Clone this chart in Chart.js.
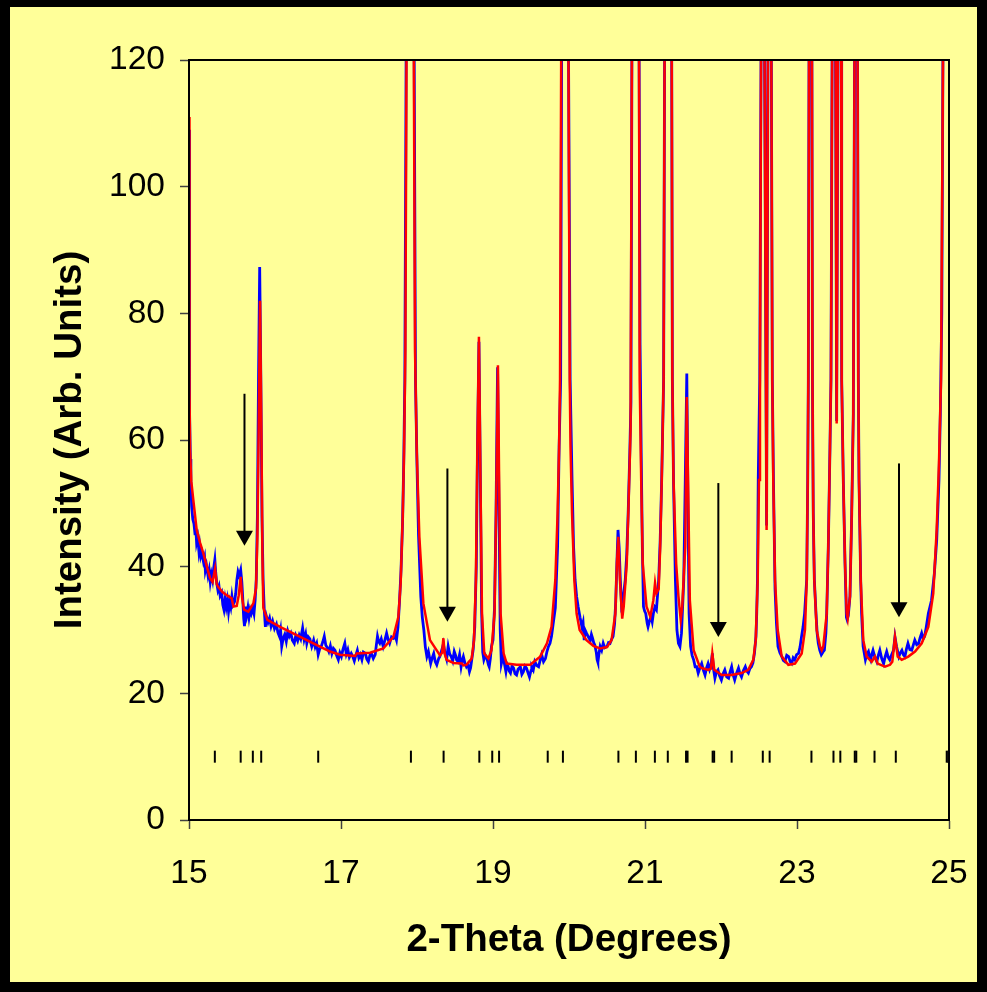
<!DOCTYPE html>
<html>
<head>
<meta charset="utf-8">
<script src="https://cdn.jsdelivr.net/npm/chart.js@4.4.0/dist/chart.umd.min.js"></script>
<style>
    html, body { margin: 0; padding: 0; background: #000; }
    #wrap { position: absolute; left: 10px; top: 7px; width: 967px; height: 975px; background: #FFFF99; }
</style>
</head>
<body>
<div id="wrap"><canvas id="xrdChart"></canvas></div>
<script>
// observed pattern [2theta, intensity]
const obsPoints = [
    [15.000,109],[15.004,90],[15.008,75],[15.012,64],[15.018,57],[15.025,53],[15.035,49.5],[15.050,47.5],
    [15.065,46.8],[15.079,45.2],[15.090,46.0],[15.100,43.8],[15.115,44.6],[15.130,42.5],[15.140,43.4],
    [15.155,41.6],[15.170,42.2],[15.190,40.8],[15.205,41.5],[15.215,39.4],[15.230,40.2],[15.250,38.6],
    [15.265,39.5],[15.280,37.6],[15.295,38.8],[15.310,37.9],[15.325,39.8],[15.340,41.1],[15.352,39.0],
    [15.365,37.4],[15.380,36.3],[15.395,36.9],[15.410,35.4],[15.430,35.9],[15.445,34.0],[15.460,33.2],
    [15.475,34.8],[15.490,33.6],[15.505,34.7],[15.520,32.9],[15.535,34.4],[15.550,33.6],[15.565,35.3],
    [15.580,34.0],[15.600,34.5],[15.615,35.8],[15.630,37.9],[15.645,39.2],[15.660,38.6],[15.680,39.5],
    [15.695,37.6],[15.705,35.5],[15.720,31.8],[15.730,30.6],[15.745,33.7],[15.760,32.4],[15.775,33.5],
    [15.790,32.0],[15.805,33.2],[15.820,32.6],[15.840,33.4],[15.855,32.6],[15.870,34.7],[15.885,38],
    [15.900,48],[15.915,70],[15.930,87.3],[15.945,70],[15.960,48],[15.975,38],[15.990,33.2],[16.005,30.5],
    [16.020,32.1],[16.040,31.2],[16.060,31.9],[16.080,30.6],[16.100,31.4],[16.125,30.2],[16.150,30.9],
    [16.170,29.6],[16.190,29.0],[16.205,30.0],[16.220,27.4],[16.240,28.7],[16.260,29.3],[16.280,28.2],
    [16.300,29.8],[16.320,29.0],[16.340,29.5],[16.360,28.4],[16.385,27.9],[16.405,29.1],[16.430,28.3],
    [16.450,29.2],[16.470,28.6],[16.495,30.3],[16.515,28.5],[16.535,29.4],[16.550,27.9],[16.570,28.9],
    [16.590,28.6],[16.615,27.4],[16.640,28.4],[16.660,27.3],[16.680,27.9],[16.700,26.1],[16.720,27.0],
    [16.740,27.4],[16.760,28.1],[16.780,29.0],[16.800,27.6],[16.820,27.2],[16.840,26.6],[16.860,27.5],
    [16.880,26.3],[16.900,27.1],[16.920,26.8],[16.945,25.9],[16.965,25.3],[16.985,26.4],[17.005,25.8],
    [17.025,26.9],[17.050,27.9],[17.070,26.2],[17.090,26.9],[17.110,25.7],[17.135,26.3],[17.155,25.8],
    [17.175,25.1],[17.195,26.0],[17.215,26.8],[17.235,25.6],[17.255,26.1],[17.275,25.3],[17.295,26.5],
    [17.320,26.3],[17.340,25.4],[17.360,25.0],[17.380,26.0],[17.400,26.3],[17.425,25.5],[17.450,26.1],
    [17.465,27.6],[17.480,29.0],[17.495,28.2],[17.510,27.9],[17.530,28.6],[17.555,27.4],[17.575,28.3],
    [17.600,29.5],[17.620,28.5],[17.640,27.9],[17.665,28.9],[17.690,28.7],[17.710,29.2],[17.730,28.4],
    [17.750,30.5],[17.770,34.5],[17.790,39.5],[17.810,47.0],[17.825,56],[17.840,69.5],[17.860,130],
    [17.910,300],[17.960,130],[17.980,69.5],[18.000,56],[18.020,45],[18.050,35.3],[18.070,32],[18.090,30.0],
    [18.110,27.3],[18.130,25.8],[18.150,26.6],[18.180,24.7],[18.200,25.6],[18.220,26.3],[18.240,25.0],
    [18.260,24.5],[18.285,25.5],[18.300,25.8],[18.315,26.4],[18.335,27.2],[18.347,27.8],[18.360,26.9],
    [18.370,26.3],[18.390,25.4],[18.410,27.4],[18.430,26.2],[18.450,25.8],[18.470,25.1],[18.490,26.6],
    [18.510,25.9],[18.520,25.3],[18.540,25.0],[18.560,26.1],[18.580,24.2],[18.595,25.2],[18.610,25.8],
    [18.630,24.8],[18.650,24.2],[18.670,24.6],[18.690,23.4],[18.705,24.0],[18.720,25.3],[18.740,27.0],
    [18.760,30.5],[18.780,40],[18.795,58],[18.815,75.5],[18.835,52],[18.850,33],[18.865,26.5],[18.880,25.3],
    [18.900,26.0],[18.920,25.5],[18.940,24.5],[18.950,24.2],[18.965,25.5],[18.980,27.4],[19.000,28.4],
    [19.020,33.5],[19.040,48.5],[19.060,71.5],[19.080,48],[19.095,30],[19.110,24.7],[19.130,25.8],
    [19.150,24.7],[19.170,23.4],[19.185,24.6],[19.200,24.2],[19.215,23.5],[19.230,23.2],[19.250,24.3],
    [19.270,24.0],[19.290,23.1],[19.310,22.9],[19.330,23.8],[19.360,24.2],[19.380,23.0],[19.400,23.4],
    [19.420,24.3],[19.440,24.0],[19.460,23.3],[19.480,22.6],[19.500,23.6],[19.510,24.2],[19.530,23.7],
    [19.550,25.0],[19.575,24.4],[19.600,24.2],[19.620,25.2],[19.640,26.1],[19.665,25.0],[19.690,25.5],
    [19.710,26.6],[19.730,27.4],[19.750,27.9],[19.770,29.0],[19.790,30.8],[19.820,33.5],[19.850,43.2],
    [19.870,58.9],[19.890,69.5],[19.905,130],[19.945,400],[19.990,130],[20.015,69.5],[20.030,60],
    [20.040,53.7],[20.060,43.2],[20.080,37.9],[20.100,35.3],[20.120,33.7],[20.145,32.0],[20.170,30.5],
    [20.185,31.2],[20.200,28.4],[20.215,29.9],[20.230,29.5],[20.255,28.9],[20.280,28.4],[20.295,29.3],
    [20.310,28.7],[20.325,28.0],[20.340,27.6],[20.360,26.4],[20.370,25.3],[20.380,24.9],[20.395,26.3],
    [20.410,27.4],[20.430,26.8],[20.450,27.9],[20.470,27.2],[20.500,27.4],[20.520,28.0],[20.540,27.9],
    [20.560,28.5],[20.580,29.0],[20.600,31.0],[20.615,34.5],[20.630,40.5],[20.645,45.8],[20.660,43],
    [20.675,38],[20.690,34.2],[20.705,35.0],[20.720,35.8],[20.740,37.9],[20.760,42],[20.780,49],[20.800,58],
    [20.815,66],[20.830,130],[20.875,400],[20.920,130],[20.935,75],[20.950,58],[20.965,43.2],[20.980,33.7],
    [20.995,33.0],[21.010,32.6],[21.030,31.0],[21.040,30.5],[21.060,31.5],[21.080,32.1],[21.095,31.3],
    [21.110,32.6],[21.130,33.6],[21.150,33.2],[21.165,35.5],[21.180,37.9],[21.200,44.2],[21.220,54],
    [21.245,69.5],[21.260,130],[21.305,400],[21.350,130],[21.360,69.5],[21.375,53.7],[21.400,37.9],
    [21.420,30.0],[21.440,27.9],[21.460,27.4],[21.480,29.5],[21.510,37.9],[21.530,53.7],[21.550,70.5],
    [21.565,50],[21.580,32.6],[21.600,27.4],[21.620,26.0],[21.640,25.3],[21.660,24.2],[21.680,24.2],
    [21.700,23.2],[21.725,24.1],[21.746,24.7],[21.770,23.6],[21.790,22.9],[21.810,24.0],[21.830,24.7],
    [21.850,23.8],[21.870,24.6],[21.886,26.3],[21.900,24.0],[21.920,22.4],[21.940,23.4],[21.960,23.7],
    [21.980,22.8],[22.005,22.1],[22.025,23.0],[22.050,23.7],[22.075,22.6],[22.100,22.4],[22.120,23.4],
    [22.140,24.2],[22.160,22.9],[22.180,22.1],[22.205,23.2],[22.230,24.0],[22.250,23.1],[22.270,22.6],
    [22.295,23.6],[22.320,24.2],[22.340,23.5],[22.360,23.2],[22.380,23.9],[22.400,24.2],[22.420,24.8],
    [22.440,26.3],[22.460,29],[22.470,32.6],[22.480,38],[22.490,53.7],[22.510,69.5],[22.530,130],
    [22.550,300],[22.570,130],[22.600,46.5],[22.620,130],[22.645,300],[22.660,130],[22.675,69.5],
    [22.690,53.7],[22.711,36.5],[22.730,31],[22.750,27.4],[22.775,26.4],[22.800,25.8],[22.820,25.2],
    [22.840,25.0],[22.865,26.0],[22.890,25.8],[22.910,25.0],[22.930,24.7],[22.950,25.6],[22.970,25.3],
    [22.995,26.1],[23.020,26.3],[23.040,27.3],[23.060,29.0],[23.080,30.5],[23.100,32.6],[23.128,38],
    [23.141,53.7],[23.149,69.5],[23.160,130],[23.180,400],[23.195,130],[23.203,69.5],[23.214,48.4],
    [23.228,38],[23.250,32.6],[23.265,29.5],[23.280,27.9],[23.300,26.8],[23.320,26.1],[23.340,26.5],
    [23.360,26.8],[23.380,29.5],[23.391,32.6],[23.412,43.2],[23.434,58.9],[23.447,69.5],[23.465,130],
    [23.485,300],[23.505,130],[23.522,63],[23.540,130],[23.565,300],[23.580,130],[23.588,69.5],
    [23.609,53.7],[23.632,40.5],[23.650,32.0],[23.660,31.6],[23.675,32.3],[23.697,35.3],[23.720,48.4],
    [23.741,64.2],[23.760,130],[23.780,400],[23.795,130],[23.807,69.5],[23.816,53.7],[23.838,37.9],
    [23.850,32.6],[23.870,27.4],[23.900,25.3],[23.920,26.2],[23.940,26.6],[23.955,25.8],[23.970,25.3],
    [23.985,26.2],[24.000,26.8],[24.020,25.9],[24.050,25.0],[24.070,26.0],[24.090,26.8],[24.115,25.5],
    [24.140,24.7],[24.160,25.8],[24.180,26.6],[24.200,25.7],[24.220,25.3],[24.245,26.1],[24.270,26.8],
    [24.289,28.9],[24.310,27.4],[24.340,25.8],[24.360,26.4],[24.380,26.8],[24.400,26.1],[24.420,25.8],
    [24.440,27.0],[24.460,27.9],[24.485,26.9],[24.510,26.8],[24.530,27.6],[24.550,28.4],[24.575,27.7],
    [24.600,27.9],[24.620,28.8],[24.640,29.5],[24.660,28.6],[24.680,29.0],[24.700,30.4],[24.728,32.6],
    [24.770,34.7],[24.807,38.9],[24.838,44.2],[24.868,53.7],[24.886,64.2],[24.905,80],[24.920,120],
    [24.960,200],[25.000,300]
];

// calculated (fitted) pattern [2theta, intensity]
const calcPoints = [
    [15.000,111],[15.003,95],[15.006,82],[15.010,68],[15.014,58.4],[15.030,53.5],[15.057,50.5],
    [15.101,45.8],[15.145,43.8],[15.189,42.1],[15.235,40.0],[15.277,38.2],[15.310,37.6],[15.343,39.7],
    [15.365,37.2],[15.386,36.8],[15.440,36.0],[15.496,35.5],[15.562,35.0],[15.584,33.7],[15.628,33.8],
    [15.655,35.5],[15.680,38.4],[15.700,35.0],[15.724,33.2],[15.781,32.9],[15.847,34.2],[15.882,36.6],
    [15.900,45],[15.917,62],[15.935,82],[15.952,62],[15.966,42],[15.978,33.5],[16.031,31.6],[16.198,30.5],
    [16.417,29.2],[16.636,27.9],[16.856,26.6],[16.987,26.1],[17.185,25.9],[17.207,26.3],[17.382,26.4],
    [17.557,27.1],[17.689,28.9],[17.755,32.1],[17.785,37.4],[17.812,47.9],[17.830,58.4],[17.847,74.2],
    [17.865,130],[17.910,300],[17.955,130],[17.974,74.2],[17.996,58.4],[18.031,44.7],[18.084,34.2],
    [18.171,28.4],[18.303,26.0],[18.330,26.4],[18.347,28.7],[18.365,26.2],[18.390,25.3],[18.480,24.8],
    [18.590,24.7],[18.610,24.4],[18.650,24.5],[18.720,25.5],[18.750,28.4],[18.775,37.9],[18.795,58.9],
    [18.815,76.3],[18.835,53.7],[18.855,32.6],[18.885,26.3],[18.940,25.5],[18.980,26.8],[19.020,32.6],
    [19.040,48.4],[19.065,71.8],[19.085,48.4],[19.100,32.6],[19.140,26.3],[19.180,24.7],[19.310,24.5],
    [19.490,24.5],[19.620,25.8],[19.710,27.9],[19.770,30.5],[19.820,37.9],[19.850,48.4],[19.870,58.9],
    [19.882,69.5],[19.900,130],[19.945,400],[19.990,130],[20.010,69.5],[20.020,58.9],[20.040,48.4],
    [20.070,37.9],[20.100,32.6],[20.140,30.0],[20.230,28.4],[20.320,27.5],[20.410,27.1],[20.500,27.3],
    [20.560,28.4],[20.610,32.6],[20.630,40.5],[20.649,44.7],[20.670,37.9],[20.700,31.8],[20.720,33.7],
    [20.760,40.5],[20.780,48.4],[20.810,61.6],[20.830,130],[20.875,400],[20.920,130],[20.930,69.5],
    [20.950,53.7],[20.970,40.5],[21.020,33.7],[21.070,32.1],[21.110,34.7],[21.132,37.4],[21.150,35.8],
    [21.180,36.5],[21.200,43.2],[21.220,53.7],[21.245,69.5],[21.260,130],[21.305,400],[21.350,130],
    [21.360,69.5],[21.375,53.7],[21.410,40.5],[21.440,35.3],[21.470,31.6],[21.490,33.7],[21.530,43.2],
    [21.549,66.8],[21.570,50.5],[21.590,34.7],[21.640,26.8],[21.720,24.2],[21.746,24.0],[21.833,23.7],
    [21.868,23.9],[21.886,26.3],[21.912,23.7],[22.009,22.9],[22.141,22.9],[22.272,23.2],[22.359,23.7],
    [22.425,25.3],[22.457,28.4],[22.483,37.9],[22.500,53.7],[22.513,69.5],[22.530,130],[22.550,300],
    [22.570,130],[22.600,45.8],[22.620,130],[22.645,300],[22.660,130],[22.675,69.5],[22.688,53.7],
    [22.711,37.9],[22.746,30],[22.799,25.8],[22.886,24.5],[22.974,24.7],[23.062,26.3],[23.105,30],
    [23.128,37.9],[23.141,53.7],[23.149,69.5],[23.160,130],[23.180,400],[23.195,130],[23.203,69.5],
    [23.214,48.4],[23.228,37.9],[23.259,30],[23.303,27.4],[23.325,26.8],[23.346,27.4],[23.391,32.6],
    [23.412,43.2],[23.434,58.9],[23.447,69.5],[23.465,130],[23.485,300],[23.505,130],[23.522,62.6],
    [23.540,130],[23.565,300],[23.580,130],[23.588,69.5],[23.609,53.7],[23.632,40.5],[23.654,32.6],
    [23.667,31.8],[23.697,35.3],[23.720,48.4],[23.741,64.2],[23.760,130],[23.780,400],[23.795,130],
    [23.807,69.5],[23.816,53.7],[23.838,37.9],[23.872,28.4],[23.917,25.8],[23.983,25.0],[24.026,25.8],
    [24.062,24.7],[24.158,24.2],[24.224,24.5],[24.254,25.0],[24.289,28.9],[24.325,25.8],[24.378,25.3],
    [24.464,25.8],[24.553,26.6],[24.641,27.9],[24.728,30.5],[24.793,35.8],[24.838,45.8],[24.868,56.3],
    [24.895,69.5],[24.921,120],[24.960,200],[25.000,300]
];

// reflection positions (tick marks near the bottom)
const reflTheta = [15.34, 15.68, 15.84, 15.95, 16.70, 17.92, 18.35, 18.82, 18.99, 19.08, 19.72, 19.92,
    20.65, 20.88, 21.13, 21.30, 21.54, 21.56, 21.89, 21.91, 22.14, 22.55, 22.64, 23.19, 23.48, 23.57,
    23.76, 23.78, 24.02, 24.30, 24.97, 24.99];
const reflLevel = 10;

// arrows marking the unindexed peaks
const arrowTheta = [15.73, 18.40, 21.965, 24.342];
const arrowTop = [67.3, 55.5, 53.2, 56.3];
const arrowTip = [43.3, 31.3, 28.9, 32.0];

const xTicks = [15, 17, 19, 21, 23, 25];
const yTicks = [0, 20, 40, 60, 80, 100, 120];

const fontFamily = "'Liberation Sans', Arial, sans-serif";

const frameAndArrows = {
    id: 'frameAndArrows',
    afterDatasetsDraw(chart) {
        const ctx = chart.ctx;
        const xs = chart.scales.x, ys = chart.scales.y;
        ctx.save();
        ctx.strokeStyle = '#000';
        ctx.fillStyle = '#000';
        arrowTheta.forEach((t, i) => {
            const px = xs.getPixelForValue(t);
            const top = ys.getPixelForValue(arrowTop[i]);
            const tip = ys.getPixelForValue(arrowTip[i]);
            const headH = 15, headW = 8.5;
            ctx.lineWidth = 2;
            ctx.beginPath();
            ctx.moveTo(px, top);
            ctx.lineTo(px, tip - headH + 1);
            ctx.stroke();
            ctx.beginPath();
            ctx.moveTo(px - headW, tip - headH);
            ctx.lineTo(px + headW, tip - headH);
            ctx.lineTo(px, tip);
            ctx.closePath();
            ctx.fill();
        });
        const a = chart.chartArea;
        ctx.lineWidth = 2;
        ctx.strokeRect(a.left, a.top, a.right - a.left, a.bottom - a.top);
        ctx.restore();
    }
};

const ctx = document.getElementById('xrdChart').getContext('2d');
new Chart(ctx, {
    type: 'line',
    data: {
        datasets: [
            {
                label: 'Reflections',
                data: reflTheta.map(t => ({x: t, y: reflLevel})),
                showLine: false,
                pointStyle: 'line',
                rotation: 90,
                pointRadius: 6,
                pointBorderWidth: 2,
                pointBorderColor: '#000',
                borderColor: '#000',
                order: 3
            },
            {
                label: 'Calculated',
                data: calcPoints.map(p => ({x: p[0], y: p[1]})),
                borderColor: '#FF0000',
                borderWidth: 2.5,
                pointRadius: 0,
                tension: 0,
                order: 1
            },
            {
                label: 'Observed',
                data: obsPoints.map(p => ({x: p[0], y: p[1]})),
                borderColor: '#0000FF',
                borderWidth: 2.8,
                pointRadius: 0,
                tension: 0,
                order: 2
            }
        ]
    },
    options: {
        responsive: true,
        maintainAspectRatio: false,
        animation: false,
        layout: {padding: {top: 53, right: 28, bottom: 0, left: 0}},
        plugins: {legend: {display: false}, tooltip: {enabled: false}},
        scales: {
            x: {
                type: 'linear',
                min: 15,
                max: 25,
                afterBuildTicks: s => { s.ticks = xTicks.map(v => ({value: v})); },
                afterFit: s => { s.height = 162; s.paddingLeft = 0; s.paddingRight = 0; },
                ticks: {color: '#000', padding: 25, font: {family: fontFamily, size: 33.5}},
                grid: {drawOnChartArea: false, tickLength: 9, color: '#404040', tickWidth: 1.5},
                border: {display: true, color: '#000', width: 2},
                title: {
                    display: true,
                    text: '2-Theta (Degrees)',
                    color: '#000',
                    font: {family: fontFamily, size: 38.5, weight: 'bold'},
                    padding: {top: 0, bottom: 19}
                }
            },
            y: {
                min: 0,
                max: 120,
                afterBuildTicks: s => { s.ticks = yTicks.map(v => ({value: v})); },
                afterFit: s => { s.width = 179; s.paddingTop = 0; s.paddingBottom = 0; },
                ticks: {color: '#000', padding: 15, font: {family: fontFamily, size: 33.5}},
                grid: {drawOnChartArea: false, tickLength: 9, color: '#404040', tickWidth: 1.5},
                border: {display: true, color: '#000', width: 2},
                title: {
                    display: true,
                    text: 'Intensity (Arb. Units)',
                    color: '#000',
                    font: {family: fontFamily, size: 38.5, weight: 'bold'},
                    padding: {top: 37, bottom: 0}
                }
            }
        }
    },
    plugins: [frameAndArrows]
});
</script>
</body>
</html>
